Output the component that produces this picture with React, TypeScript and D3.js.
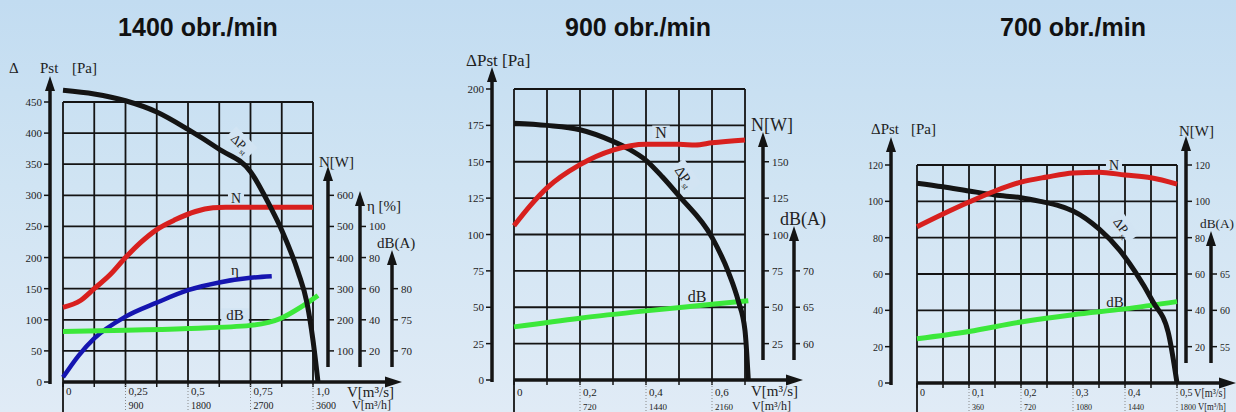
import React from "react";
import * as d3 from "d3";

const titles = ["1400 obr./min", "900 obr./min", "700 obr./min"];

// ---------- 1400 obr./min ----------
const p1PstFlow = [0, 0.125, 0.25, 0.375, 0.5, 0.625, 0.75, 0.83, 0.875, 0.94, 0.976, 1.0, 1.02];
const p1Pst = [469, 463, 452, 434, 406, 374, 338, 281, 244, 177, 127, 67, 0];
const p1NFlow = [0, 0.07, 0.125, 0.19, 0.25, 0.31, 0.375, 0.45, 0.53, 0.6, 0.65, 1.0];
const p1N = [240, 262, 300, 346, 400, 448, 490, 522, 548, 560, 562, 562];
const p1EtaFlow = [0, 0.0625, 0.125, 0.25, 0.375, 0.5, 0.625, 0.75, 0.835];
const p1Eta = [3, 17, 28, 42, 51, 59, 64, 67, 68];
const p1DbFlow = [0, 0.25, 0.5, 0.75, 0.87, 0.95, 1.02];
const p1Db = [73.1, 73.3, 73.6, 74.1, 75.2, 77, 78.9];
const p1PstTicks = [0, 50, 100, 150, 200, 250, 300, 350, 400, 450];
const p1NTicks = [100, 200, 300, 400, 500, 600];
const p1EtaTicks = [20, 40, 60, 80, 100];
const p1DbTicks = [70, 75, 80];
const p1FlowTicks = [0, 0.25, 0.5, 0.75, 1.0];
const p1FlowLabels = ["0", "0,25", "0,5", "0,75", "1,0"];
const p1HourLabels = ["", "900", "1800", "2700", "3600"];

// ---------- 900 obr./min ----------
const p2PstFlow = [0, 0.1, 0.2, 0.3, 0.35, 0.4, 0.45, 0.5, 0.6, 0.65, 0.68, 0.7, 0.71];
const p2Pst = [176.5, 175, 172, 164, 158.5, 151, 139.5, 126.5, 98, 74, 54, 34, 0];
const p2NFlow = [0, 0.05, 0.1, 0.2, 0.3, 0.4, 0.5, 0.55, 0.6, 0.7];
const p2N = [106, 120, 132, 148, 158, 162, 162, 161.5, 163, 165];
const p2DbFlow = [0, 0.2, 0.4, 0.6, 0.71];
const p2Db = [62.3, 63.5, 64.5, 65.4, 65.9];
const p2PstTicks = [0, 25, 50, 75, 100, 125, 150, 175, 200];
const p2NTicks = [25, 50, 75, 100, 125, 150];
const p2DbTicks = [60, 65, 70];
const p2FlowTicks = [0, 0.2, 0.4, 0.6];
const p2FlowLabels = ["0", "0,2", "0,4", "0,6"];
const p2HourLabels = ["", "720", "1440", "2160"];

// ---------- 700 obr./min ----------
const p3PstFlow = [0, 0.05, 0.1, 0.15, 0.2, 0.237, 0.275, 0.3, 0.35, 0.39, 0.42, 0.454, 0.483, 0.5];
const p3Pst = [110, 108, 105.7, 103.5, 102, 100, 97.4, 94.7, 84.8, 73, 61, 44.6, 28, 0];
const p3NFlow = [0, 0.05, 0.1, 0.15, 0.2, 0.25, 0.3, 0.35, 0.4, 0.45, 0.5];
const p3N = [86, 93, 99.6, 105.7, 110.6, 113.4, 115.6, 116, 114.5, 113, 109.5];
const p3DbFlow = [0, 0.1, 0.2, 0.3, 0.4, 0.5];
const p3Db = [56.1, 57.1, 58.4, 59.4, 60.2, 61.2];
const p3PstTicks = [0, 20, 40, 60, 80, 100, 120];
const p3NTicks = [20, 40, 60, 80, 100, 120];
const p3DbTicks = [55, 60, 65];
const p3FlowTicks = [0, 0.1, 0.2, 0.3, 0.4, 0.5];
const p3FlowLabels = ["0", "0,1", "0,2", "0,3", "0,4", "0,5"];
const p3HourLabels = ["", "360", "720", "1080", "1440", "1800"];

const W = 1236;
const H = 412;
const SERIF = "'Liberation Serif','DejaVu Serif','Times New Roman',serif";
const SANS = "'Liberation Sans',Arial,Helvetica,sans-serif";
const INK = "#141414";
const RED = "#d8201e";
const BLUE = "#1515b0";
const GREEN = "#3ce83a";
const LABEL_BG = "#d2e4f3";

const panels: any[] = [
  {
    title: titles[0], titleX: 198, titleY: 36,
    x0: 63, x1: 313, flowMax: 1.0, gridStep: 0.125,
    yTop: 102, yBot: 382, pstMax: 450, pstStep: 50,
    yAxisX: 50, yAxisTip: 76, xAxisTip: 402,
    pstTicks: p1PstTicks, tickFs: 11,
    ylabel: [{ t: "Δ", x: 9 }, { t: "Pst", x: 40 }, { t: "[Pa]", x: 72 }], ylabelY: 73, ylabelFs: 15,
    flowTicks: p1FlowTicks, flowLabels: p1FlowLabels, hourLabels: p1HourLabels,
    flowY: 395, hourY: 409, flowFs: 11, hourFs: 10,
    vLabels: [{ t: "V[m³/s]", x: 347, y: 397, fs: 15 }, { t: "V[m³/h]", x: 352, y: 409, fs: 12 }],
    sec: [
      { key: "n", x: 328, tip: 166, bottom: 367, domain: [0, 900], ticks: p1NTicks, title: "N[W]", tx: 319, ty: 167, fs: 15, tfs: 11 },
      { key: "eta", x: 360, tip: 191, bottom: 367, domain: [0, 180], ticks: p1EtaTicks, title: "η [%]", tx: 367, ty: 211, fs: 15, tfs: 11 },
      { key: "db", x: 392, tip: 250, bottom: 367, domain: [65, 110], ticks: p1DbTicks, title: "dB(A)", tx: 377, ty: 248, fs: 15, tfs: 11 },
    ],
    series: [
      { flow: p1NFlow, vals: p1N, key: "n", color: RED, w: 5 },
      { flow: p1EtaFlow, vals: p1Eta, key: "eta", color: BLUE, w: 4.5 },
      { flow: p1DbFlow, vals: p1Db, key: "db", color: GREEN, w: 5 },
      { flow: p1PstFlow, vals: p1Pst, key: "pst", color: INK, w: 5 },
    ],
    labels: [
      { t: "N", x: 236, y: 203, fs: 14 },
      { rot: true, x: 240, y: 144, angle: 45, fs: 13 },
      { t: "η", x: 235, y: 275, fs: 15, nobg: true },
      { t: "dB", x: 235, y: 320, fs: 15 },
    ],
  },
  {
    title: titles[1], titleX: 638, titleY: 36,
    x0: 514, x1: 745, flowMax: 0.7, gridStep: 0.1,
    yTop: 89, yBot: 380, pstMax: 200, pstStep: 25,
    yAxisX: 492, yAxisTip: 67, xAxisTip: 803,
    pstTicks: p2PstTicks, tickFs: 11,
    ylabel: [{ t: "ΔPst [Pa]", x: 466 }], ylabelY: 66, ylabelFs: 17,
    flowTicks: p2FlowTicks, flowLabels: p2FlowLabels, hourLabels: p2HourLabels,
    flowY: 396, hourY: 410, flowFs: 11, hourFs: 9,
    vLabels: [{ t: "V[m³/s]", x: 751, y: 396, fs: 15 }, { t: "V[m³/h]", x: 752, y: 410, fs: 12 }],
    sec: [
      { key: "n", x: 763, tip: 132, bottom: 360, domain: [0, 200], ticks: p2NTicks, title: "N[W]", tx: 751, ty: 131, fs: 18, tfs: 11 },
      { key: "db", x: 794, tip: 226, bottom: 360, domain: [55, 95], ticks: p2DbTicks, title: "dB(A)", tx: 780, ty: 225, fs: 18, tfs: 11 },
    ],
    series: [
      { flow: p2DbFlow, vals: p2Db, key: "db", color: GREEN, w: 5 },
      { flow: p2PstFlow, vals: p2Pst, key: "pst", color: INK, w: 5 },
      { flow: p2NFlow, vals: p2N, key: "n", color: RED, w: 5 },
    ],
    labels: [
      { t: "N", x: 661, y: 138, fs: 16 },
      { rot: true, x: 684, y: 177, angle: 55, fs: 14 },
      { t: "dB", x: 697, y: 302, fs: 16, nobg: true },
    ],
  },
  {
    title: titles[2], titleX: 1073, titleY: 36,
    x0: 917, x1: 1177, flowMax: 0.5, gridStep: 0.05,
    yTop: 165, yBot: 383, pstMax: 120, pstStep: 20,
    yAxisX: 891, yAxisTip: 137, xAxisTip: 1236,
    pstTicks: p3PstTicks, tickFs: 10,
    ylabel: [{ t: "ΔPst", x: 871 }, { t: "[Pa]", x: 911 }], ylabelY: 134, ylabelFs: 15,
    flowTicks: p3FlowTicks, flowLabels: p3FlowLabels, hourLabels: p3HourLabels,
    flowY: 396, hourY: 410, flowFs: 10, hourFs: 8,
    vLabels: [
      { t: "V[m³/s]", x: 1194, y: 397, fs: 13, len: 32 },
      { t: "V[m³/h]", x: 1198, y: 410, fs: 11, len: 28 },
    ],
    sec: [
      { key: "n", x: 1186, tip: 136, bottom: 363, domain: [0, 120], ticks: p3NTicks, title: "N[W]", tx: 1179, ty: 136, fs: 15, tfs: 10 },
      { key: "db", x: 1211, tip: 231, bottom: 363, domain: [50, 80], ticks: p3DbTicks, title: "dB(A)", tx: 1200, ty: 228, fs: 13.5, tfs: 10, len: 34 },
    ],
    series: [
      { flow: p3DbFlow, vals: p3Db, key: "db", color: GREEN, w: 5 },
      { flow: p3PstFlow, vals: p3Pst, key: "pst", color: INK, w: 5 },
      { flow: p3NFlow, vals: p3N, key: "n", color: RED, w: 5 },
    ],
    labels: [
      { t: "N", x: 1114, y: 170, fs: 14 },
      { rot: true, x: 1122, y: 228, angle: 55, fs: 13 },
      { t: "dB", x: 1115, y: 307, fs: 15, nobg: true },
    ],
  },
];

const upArrow = (x: number, tip: number) => `M${x},${tip} L${x - 5},${tip + 15} L${x + 5},${tip + 15} Z`;
const rightArrow = (tip: number, y: number) => `M${tip},${y} L${tip - 17},${y - 5.5} L${tip - 17},${y + 5.5} Z`;

function Panel({ P }: { P: any }) {
  const x = d3.scaleLinear().domain([0, P.flowMax]).range([P.x0, P.x1]);
  const y = d3.scaleLinear().domain([0, P.pstMax]).range([P.yBot, P.yTop]);
  const scales: Record<string, d3.ScaleLinear<number, number>> = { pst: y };
  P.sec.forEach((s: any) => {
    scales[s.key] = d3.scaleLinear().domain(s.domain).range([P.yBot, P.yTop]);
  });
  const nCols = Math.round(P.flowMax / P.gridStep);
  const cols = d3.range(nCols + 1).map((i) => i * P.gridStep);
  const nRows = Math.round(P.pstMax / P.pstStep);
  const rows = d3.range(nRows + 1).map((i) => i * P.pstStep);

  return (
    <g>
      <text x={P.titleX} y={P.titleY} textAnchor="middle" fontFamily={SANS} fontWeight="bold" fontSize={25} fill="#111">
        {P.title}
      </text>

      {cols.map((c: number, i: number) => (
        <line key={"c" + i} x1={x(c)} x2={x(c)} y1={P.yTop} y2={P.yBot} stroke={INK} strokeWidth={1.8} />
      ))}
      {rows.map((r: number, i: number) => (
        <line key={"r" + i} x1={P.x0} x2={P.x1} y1={y(r)} y2={y(r)} stroke={INK} strokeWidth={1.8} />
      ))}

      {P.labels.map((l: any, i: number) =>
        l.rot ? (
          <g key={"lb" + i} transform={`translate(${l.x},${l.y}) rotate(${l.angle})`}>
            <rect x={-15} y={-l.fs * 0.75} width={30} height={l.fs * 1.05} fill={LABEL_BG} />
          </g>
        ) : l.nobg ? null : (
          <rect key={"lb" + i} x={l.x - (l.t.length * l.fs * 0.36 + 3)} y={l.y - l.fs * 0.78} width={l.t.length * l.fs * 0.72 + 6} height={l.fs * 0.95} fill={LABEL_BG} />
        )
      )}

      {P.series.map((s: any, i: number) => {
        const pts: [number, number][] = s.flow.map((f: number, j: number) => [f, s.vals[j]]);
        const sc = scales[s.key];
        const line = d3
          .line<[number, number]>()
          .x((d) => x(d[0]))
          .y((d) => sc(d[1]))
          .curve(d3.curveMonotoneX);
        return <path key={"s" + i} d={line(pts) || ""} fill="none" stroke={s.color} strokeWidth={s.w} strokeLinecap="butt" strokeLinejoin="round" />;
      })}

      {P.labels.map((l: any, i: number) =>
        l.rot ? (
          <g key={"lt" + i} transform={`translate(${l.x},${l.y}) rotate(${l.angle})`}>
            <text x={0} y={l.fs * 0.3} textAnchor="middle" fontFamily={SERIF} fontSize={l.fs} fill="#222">
              ΔP<tspan fontSize={l.fs * 0.6} dy={3}>st</tspan>
            </text>
          </g>
        ) : (
          <text key={"lt" + i} x={l.x} y={l.y} textAnchor="middle" fontFamily={SERIF} fontSize={l.fs} fill="#222">
            {l.t}
          </text>
        )
      )}

      <line x1={P.yAxisX} x2={P.yAxisX} y1={P.yBot + 2} y2={P.yAxisTip + 10} stroke={INK} strokeWidth={3.5} />
      <path d={upArrow(P.yAxisX, P.yAxisTip)} fill={INK} />
      {P.pstTicks.map((t: number) => (
        <g key={"pt" + t}>
          <line x1={P.yAxisX - 6} x2={P.yAxisX} y1={y(t)} y2={y(t)} stroke={INK} strokeWidth={1.5} />
          <text x={P.yAxisX - 8} y={y(t) + 4} textAnchor="end" fontFamily={SERIF} fontSize={P.tickFs} fill="#222">
            {t}
          </text>
        </g>
      ))}
      {P.ylabel.map((l: any, i: number) => (
        <text key={"yl" + i} x={l.x} y={P.ylabelY} fontFamily={SERIF} fontSize={P.ylabelFs} fill="#222">
          {l.t}
        </text>
      ))}

      <line x1={P.x0} x2={P.xAxisTip - 12} y1={P.yBot} y2={P.yBot} stroke={INK} strokeWidth={3.5} />
      <path d={rightArrow(P.xAxisTip, P.yBot)} fill={INK} />
      {cols.map((c: number, i: number) => (
        <line key={"xt" + i} x1={x(c)} x2={x(c)} y1={P.yBot} y2={P.yBot + 5} stroke={INK} strokeWidth={1.5} />
      ))}
      <line x1={P.x0} x2={P.x0} y1={P.yBot} y2={H} stroke={INK} strokeWidth={1.8} />
      {P.flowTicks.map((t: number, i: number) => (
        <g key={"fl" + i}>
          {i > 0 && <line x1={x(t)} x2={x(t)} y1={P.yBot + 3} y2={H} stroke="#888" strokeWidth={1} strokeDasharray="1,2" />}
          <text x={x(t) + 3} y={P.flowY} fontFamily={SERIF} fontSize={P.flowFs} fill="#222">
            {P.flowLabels[i]}
          </text>
          <text x={x(t) + 3} y={P.hourY} fontFamily={SERIF} fontSize={P.hourFs} fill="#222">
            {P.hourLabels[i]}
          </text>
        </g>
      ))}
      {P.vLabels.map((v: any, i: number) => (
        <text
          key={"vl" + i}
          x={v.x}
          y={v.y}
          fontFamily={SERIF}
          fontSize={v.fs}
          fill="#222"
          {...(v.len ? { textLength: v.len, lengthAdjust: "spacingAndGlyphs" } : {})}
        >
          {v.t}
        </text>
      ))}

      {P.sec.map((s: any) => {
        const sc = scales[s.key];
        return (
          <g key={"sec" + s.key}>
            <line x1={s.x} x2={s.x} y1={s.bottom} y2={s.tip + 10} stroke={INK} strokeWidth={3.5} />
            <path d={upArrow(s.x, s.tip)} fill={INK} />
            {s.ticks.map((t: number) => (
              <g key={"st" + t}>
                <line x1={s.x} x2={s.x + 6} y1={sc(t)} y2={sc(t)} stroke={INK} strokeWidth={1.5} />
                <text x={s.x + 9} y={sc(t) + 4} fontFamily={SERIF} fontSize={s.tfs} fill="#222">
                  {t}
                </text>
              </g>
            ))}
            <text
              x={s.tx}
              y={s.ty}
              fontFamily={SERIF}
              fontSize={s.fs}
              fill="#222"
              {...(s.len ? { textLength: s.len, lengthAdjust: "spacingAndGlyphs" } : {})}
            >
              {s.title}
            </text>
          </g>
        );
      })}
    </g>
  );
}

export default function App() {
  return (
    <svg width={W} height={H} style={{ position: "absolute", left: 0, top: 0, display: "block" }}>
      <defs>
        <linearGradient id="sky" x1="0" y1="0" x2="0" y2="1">
          <stop offset="0" stopColor="#c2dcf1" />
          <stop offset="0.45" stopColor="#d0e4f3" />
          <stop offset="1" stopColor="#e0ebf6" />
        </linearGradient>
      </defs>
      <rect width={W} height={H} fill="url(#sky)" />
      {panels.map((P, i) => (
        <Panel key={i} P={P} />
      ))}
    </svg>
  );
}
